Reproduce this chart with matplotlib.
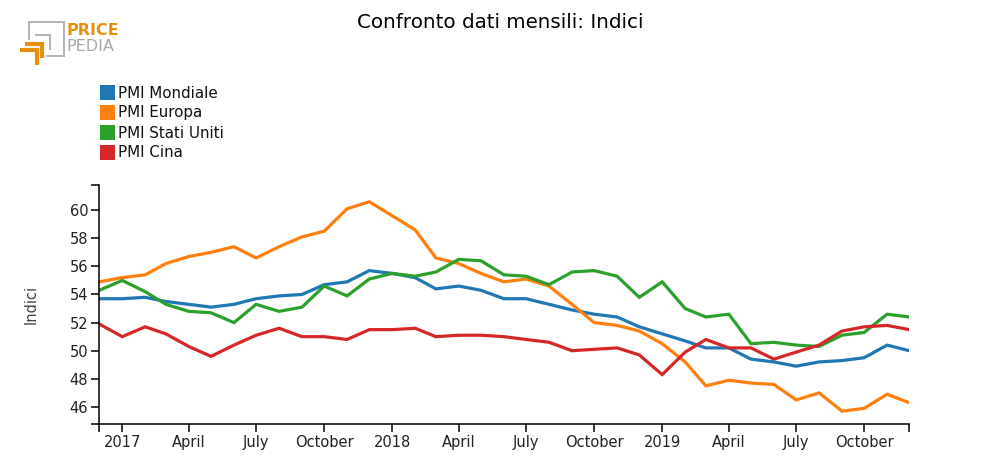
import matplotlib
matplotlib.use("Agg")
import matplotlib.pyplot as plt
from matplotlib.lines import Line2D
from matplotlib.patches import Rectangle
import pandas as pd

plt.rcParams["font.family"] = ["DejaVu Sans"]

# ---------------- data ----------------
title = "Confronto dati mensili: Indici"
y_label = "Indici"
series_names = ["PMI Mondiale", "PMI Europa", "PMI Stati Uniti", "PMI Cina"]
series_colors = ["#1f77b4", "#ff7f0e", "#2ca02c", "#d62728"]

dates = pd.date_range("2016-12-01", periods=37, freq="MS")

pmi_mondiale = [53.7, 53.7, 53.8, 53.5, 53.3, 53.1, 53.3, 53.7, 53.9, 54.0, 54.7, 54.9, 55.7,
                55.5, 55.2, 54.4, 54.6, 54.3, 53.7, 53.7, 53.3, 52.9, 52.6, 52.4, 51.7,
                51.2, 50.7, 50.2, 50.2, 49.4, 49.2, 48.9, 49.2, 49.3, 49.5, 50.4, 50.0]
pmi_europa = [54.9, 55.2, 55.4, 56.2, 56.7, 57.0, 57.4, 56.6, 57.4, 58.1, 58.5, 60.1, 60.6,
              59.6, 58.6, 56.6, 56.2, 55.5, 54.9, 55.1, 54.6, 53.3, 52.0, 51.8, 51.4,
              50.5, 49.2, 47.5, 47.9, 47.7, 47.6, 46.5, 47.0, 45.7, 45.9, 46.9, 46.3]
pmi_usa = [54.3, 55.0, 54.2, 53.3, 52.8, 52.7, 52.0, 53.3, 52.8, 53.1, 54.6, 53.9, 55.1,
           55.5, 55.3, 55.6, 56.5, 56.4, 55.4, 55.3, 54.7, 55.6, 55.7, 55.3, 53.8,
           54.9, 53.0, 52.4, 52.6, 50.5, 50.6, 50.4, 50.3, 51.1, 51.3, 52.6, 52.4]
pmi_cina = [51.9, 51.0, 51.7, 51.2, 50.3, 49.6, 50.4, 51.1, 51.6, 51.0, 51.0, 50.8, 51.5,
            51.5, 51.6, 51.0, 51.1, 51.1, 51.0, 50.8, 50.6, 50.0, 50.1, 50.2, 49.7,
            48.3, 49.9, 50.8, 50.2, 50.2, 49.4, 49.9, 50.4, 51.4, 51.7, 51.8, 51.5]
series_values = [pmi_mondiale, pmi_europa, pmi_usa, pmi_cina]

y_ticks = [46, 48, 50, 52, 54, 56, 58, 60]
month_names = ["January", "February", "March", "April", "May", "June", "July",
               "August", "September", "October", "November", "December"]

# ---------------- figure ----------------
W, H = 1000, 475
fig = plt.figure(figsize=(W / 100, H / 100), dpi=100)

def fx(px):
    return px / W

def fy(py):
    return 1 - py / H

ax = fig.add_axes([fx(99.3), fy(424), fx(909.3) - fx(99.3), fy(184.7) - fy(424)])

for name, vals, col in zip(series_names, series_values, series_colors):
    ax.plot(dates, vals, color=col, lw=2.3, solid_joinstyle="miter", label=name)

all_vals = [v for s in series_values for v in s]
ymin, ymax = min(all_vals) * 0.98, max(all_vals) * 1.02
ax.set_ylim(ymin, ymax)
ax.set_xlim(dates[0], dates[-1])

# x ticks: every 3 months from Jan 2017, plus outer ticks at ends
tick_dates = [d for d in dates if d.month in (1, 4, 7, 10)]
xt = [dates[0]] + tick_dates + [dates[-1]]
xl = [""] + [str(d.year) if d.month == 1 else month_names[d.month - 1] for d in tick_dates] + [""]
ax.set_xticks(xt)
ax.set_xticklabels(xl)

yt = [ymin] + y_ticks + [ymax]
yl = [""] + [str(t) for t in y_ticks] + [""]
ax.set_yticks(yt)
ax.set_yticklabels(yl)

for s in ["top", "right"]:
    ax.spines[s].set_visible(False)
for s in ["left", "bottom"]:
    ax.spines[s].set_linewidth(1.1)
    ax.spines[s].set_color("black")

ax.tick_params(axis="both", length=6, width=1.1, color="black", labelsize=10.5,
               labelcolor="#222222", pad=2)

# title
fig.text(0.5, fy(22), title, ha="center", va="center", fontsize=14.3, color="black")

# y label
fig.text(fx(31), fy(304), y_label, rotation=90, ha="center", va="center",
         fontsize=10.5, color="#444444")

# legend (manual)
for i, (name, col) in enumerate(zip(series_names, series_colors)):
    cy = 92.5 + 20 * i
    fig.add_artist(Rectangle((fx(100), fy(cy + 7.5)), fx(15), fy(cy - 7.5) - fy(cy + 7.5),
                             transform=fig.transFigure, facecolor=col, edgecolor="none"))
    fig.text(fx(118), fy(cy + 0.5), name, ha="left", va="center", fontsize=10.9, color="#111111")

# logo
gray = "#b3b3b3"
orange = "#e8900c"

def pline(pts, color, lw):
    xs = [fx(p[0]) for p in pts]
    ys = [fy(p[1]) for p in pts]
    fig.add_artist(Line2D(xs, ys, transform=fig.transFigure, color=color, lw=lw,
                          solid_joinstyle="miter", solid_capstyle="butt"))

pline([(28.5, 40), (28.5, 21.5), (63.5, 21.5), (63.5, 55.5), (46, 55.5)], gray, 1.4)
pline([(35, 34.5), (50, 34.5), (50, 50)], gray, 1.4)
pline([(25, 43.5), (41.5, 43.5), (41.5, 58)], orange, 3.0)
pline([(20, 49.5), (36.5, 49.5), (36.5, 65)], orange, 3.0)
fig.text(fx(66.5), fy(30.5), "PRICE", ha="left", va="center", fontsize=11.5, fontweight="bold",
         color=orange)
fig.text(fx(66.5), fy(46.5), "PEDIA", ha="left", va="center", fontsize=11.5,
         color="#a8a8a8")

fig.savefig("out.png", dpi=100)
